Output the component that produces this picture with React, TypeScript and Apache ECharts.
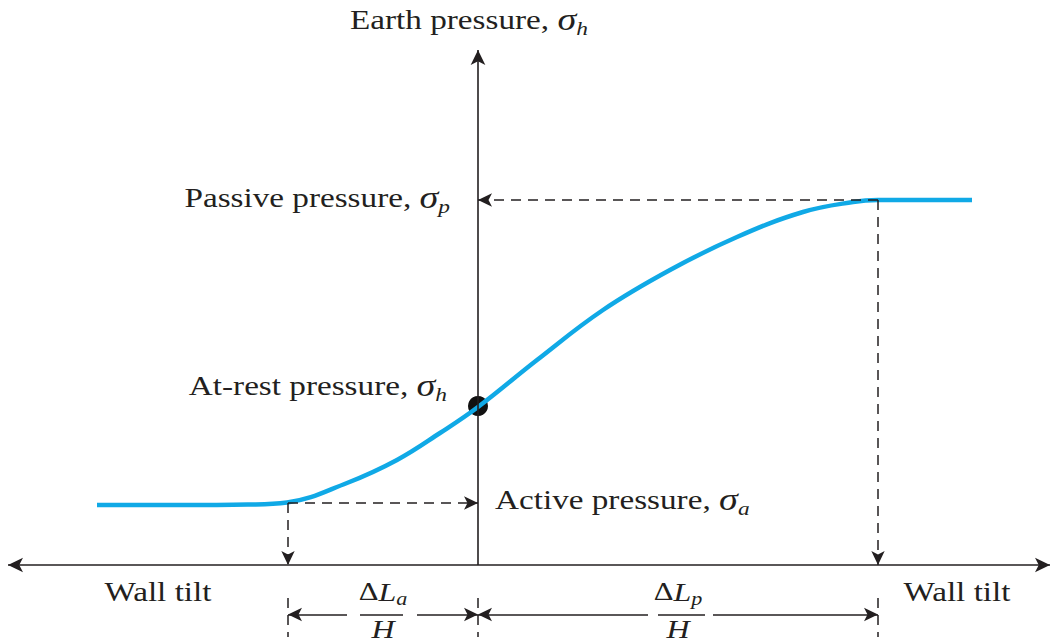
import React, { useEffect, useRef } from "react";
import * as echarts from "echarts";

// ---- data (abstract units: wall tilt on x, earth pressure on y) ----
const CURVE_TILT = [-3.81, -3.0, -2.3, -1.91, -1.31, -0.81, -0.38, 0, 0.59, 1.25, 1.92, 2.59, 3.25, 3.75, 4.0, 4.5, 4.94];
const CURVE_PRESSURE = [0.6, 0.6, 0.605, 0.625, 0.82, 1.05, 1.32, 1.58, 2.05, 2.55, 2.95, 3.28, 3.53, 3.63, 3.65, 3.65, 3.65];

const ACTIVE_PRESSURE = 0.62;
const REST_PRESSURE = 1.59;
const PASSIVE_PRESSURE = 3.65;
const ACTIVE_TILT = -1.9;
const PASSIVE_TILT = 4.0;

const TILT_AXIS_EXTENT = [-4.7, 5.72];
const PRESSURE_AXIS_TOP = 5.15;
const VIEW_X = [-4.78, 5.76];
const VIEW_Y = [-0.77, 5.65];

const DIM_LEVEL = -0.495;
const DIM_TICK = [-0.33, -0.72];

const TITLE_TEXT = "Earth pressure, {i|σ}{s|h}";
const PASSIVE_TEXT = "Passive pressure, {i|σ}{s|p}";
const REST_TEXT = "At-rest pressure, {i|σ}{s|h}";
const ACTIVE_TEXT = "Active pressure, {i|σ}{s|a}";
const TILT_TEXT = "Wall tilt";
const DL_A_TEXT = "{d|Δ}{l|L}{t|a}";
const DL_P_TEXT = "{d|Δ}{l|L}{t|p}";
const H_TEXT = "{l|H}";

const INK = "#231f20";
const CURVE_COLOR = "#10a9e6";
const FONT = "Liberation Serif";
const FS = 27;
const SX = 1.23;

const arrowEnd = (size: number[] = [10, 14]) => ({ symbol: "arrow", symbolSize: size });
const noEnd = { symbol: "none" };

export default function App() {
  const ref = useRef<HTMLDivElement>(null);

  useEffect(() => {
    if (!ref.current) return;
    const chart = echarts.init(ref.current, null, { renderer: "svg" });

    const seg = (a: number[], b: number[], sa: any, sb: any) => [
      { coord: a, ...sa },
      { coord: b, ...sb },
    ];

    const axesLines = [
      seg([TILT_AXIS_EXTENT[0], 0], [TILT_AXIS_EXTENT[1], 0], arrowEnd([11, 15]), arrowEnd([11, 15])),
      seg([0, 0], [0, PRESSURE_AXIS_TOP], noEnd, arrowEnd([11, 15])),
    ];

    const guideLines = [
      seg([ACTIVE_TILT, ACTIVE_PRESSURE], [0, ACTIVE_PRESSURE], noEnd, arrowEnd()),
      seg([ACTIVE_TILT, ACTIVE_PRESSURE], [ACTIVE_TILT, 0], noEnd, arrowEnd()),
      seg([PASSIVE_TILT, PASSIVE_PRESSURE], [0, PASSIVE_PRESSURE], noEnd, arrowEnd()),
      seg([PASSIVE_TILT, PASSIVE_PRESSURE], [PASSIVE_TILT, 0], noEnd, arrowEnd()),
      seg([ACTIVE_TILT, DIM_TICK[0]], [ACTIVE_TILT, DIM_TICK[1]], noEnd, noEnd),
      seg([0, DIM_TICK[0]], [0, DIM_TICK[1]], noEnd, noEnd),
      seg([PASSIVE_TILT, DIM_TICK[0]], [PASSIVE_TILT, DIM_TICK[1]], noEnd, noEnd),
    ];

    const midA = (ACTIVE_TILT + 0) / 2;
    const midP = (0 + PASSIVE_TILT) / 2;
    const dimLines = [
      seg([midA - 0.36, DIM_LEVEL], [ACTIVE_TILT, DIM_LEVEL], noEnd, arrowEnd()),
      seg([midA + 0.34, DIM_LEVEL], [0, DIM_LEVEL], noEnd, arrowEnd()),
      seg([midP - 0.3, DIM_LEVEL], [0, DIM_LEVEL], noEnd, arrowEnd()),
      seg([midP + 0.35, DIM_LEVEL], [PASSIVE_TILT, DIM_LEVEL], noEnd, arrowEnd()),
      seg([midA - 0.23, DIM_LEVEL], [midA + 0.2, DIM_LEVEL], noEnd, noEnd),
      seg([midP - 0.2, DIM_LEVEL], [midP + 0.27, DIM_LEVEL], noEnd, noEnd),
    ];

    const mk = (data: any[], lineStyle: any) => ({
      silent: true,
      symbol: ["none", "none"],
      label: { show: false },
      emphasis: { disabled: true },
      lineStyle,
      data,
    });

    chart.setOption({
      animation: false,
      backgroundColor: "#ffffff",
      grid: { left: 0, right: 0, top: 0, bottom: 0 },
      xAxis: { type: "value", min: VIEW_X[0], max: VIEW_X[1], show: false },
      yAxis: { type: "value", min: VIEW_Y[0], max: VIEW_Y[1], show: false },
      series: [
        {
          type: "line",
          data: [],
          markLine: mk(axesLines, { color: INK, width: 1.6, type: "solid" }),
        },
        {
          type: "line",
          data: [],
          markLine: mk(guideLines, { color: INK, width: 1.5, type: [10, 7] }),
        },
        {
          type: "line",
          data: [],
          markLine: mk(dimLines, { color: INK, width: 1.6, type: "solid" }),
        },
        {
          type: "line",
          data: CURVE_TILT.map((x, i) => [x, CURVE_PRESSURE[i]]),
          smooth: 0.4,
          showSymbol: false,
          symbol: "none",
          lineStyle: { color: CURVE_COLOR, width: 4.5 },
          silent: true,
        },
        {
          type: "scatter",
          data: [[0, REST_PRESSURE]],
          symbolSize: 20,
          itemStyle: { color: "#111111", opacity: 1 },
          silent: true,
        },
      ],
    });

    const p = (x: number, y: number) => chart.convertToPixel({ gridIndex: 0 }, [x, y]) as number[];
    const rich = {
      i: { fontStyle: "italic", fontSize: FS + 4, fontFamily: FONT, fill: INK },
      s: { fontStyle: "italic", fontSize: 19, fontFamily: FONT, fill: INK, padding: [18, 0, 0, 0] },
      d: { fontSize: 25, fontFamily: FONT, fill: INK },
      l: { fontStyle: "italic", fontSize: 26, fontFamily: FONT, fill: INK },
      t: { fontStyle: "italic", fontSize: 18, fontFamily: FONT, fill: INK, padding: [14, 0, 0, 0] },
    };
    const txt = (pos: number[], text: string, align: string) => ({
      type: "text",
      x: pos[0],
      y: pos[1],
      scaleX: SX,
      silent: true,
      style: {
        text,
        align,
        verticalAlign: "middle",
        fontSize: FS,
        fontFamily: FONT,
        fill: INK,
        rich,
      },
    });

    chart.setOption({
      graphic: [
        txt(p(-1.28, PRESSURE_AXIS_TOP + 0.3), TITLE_TEXT, "left"),
        txt(p(-0.28, PASSIVE_PRESSURE + 0.02), PASSIVE_TEXT, "right"),
        txt(p(-0.31, REST_PRESSURE + 0.2), REST_TEXT, "right"),
        txt(p(0.17, ACTIVE_PRESSURE + 0.03), ACTIVE_TEXT, "left"),
        txt(p(-3.2, -0.27), TILT_TEXT, "center"),
        txt(p(4.79, -0.27), TILT_TEXT, "center"),
        txt(p(midA, -0.27), DL_A_TEXT, "center"),
        txt(p(midP, -0.27), DL_P_TEXT, "center"),
        txt(p(midA, -0.64), H_TEXT, "center"),
        txt(p(midP, -0.64), H_TEXT, "center"),
      ],
    });

    return () => chart.dispose();
  }, []);

  return (
    <div
      ref={ref}
      style={{ position: "absolute", left: 0, top: 0, width: 1054, height: 642, background: "#fff" }}
    />
  );
}
